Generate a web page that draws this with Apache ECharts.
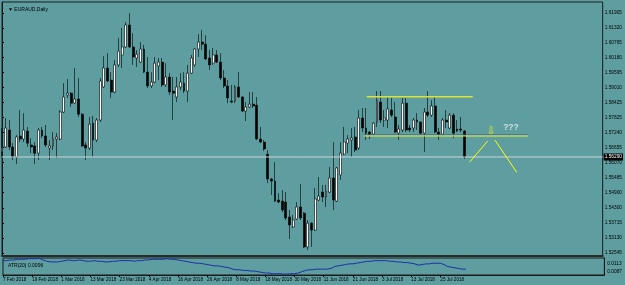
<!DOCTYPE html>
<html>
<head>
<meta charset="utf-8">
<script src="https://cdn.jsdelivr.net/npm/echarts@6/dist/echarts.min.js"></script>
<style>
html, body { margin: 0; padding: 0; background: #5f9ea0; }
#chart { width: 625px; height: 285px; }
</style>
</head>
<body>
<div id="chart"></div>
<script>
// EURAUD Daily, 7 Feb 2018 .. 3 Aug 2018
const startDate = '2018-02-07'
const barCount = 128
const slotCount = 166 // bars + empty chart shift on the right

const opens = [
  1.5648, 1.5668, 1.5734, 1.5668, 1.5629, 1.5711, 1.5699, 1.5730, 1.5676, 1.5672,
  1.5644, 1.5734, 1.5711, 1.5664, 1.5672, 1.5699, 1.5699, 1.5804, 1.5870, 1.5878,
  1.5839, 1.5855, 1.5796, 1.5676, 1.5664, 1.5761, 1.5695, 1.5773, 1.5902, 1.5976,
  1.5929, 1.5882, 1.5988, 1.6027, 1.6058, 1.6144, 1.6058, 1.6015, 1.5999, 1.6050,
  1.5960, 1.5906, 1.5921, 1.5984, 1.5999, 1.5910, 1.5941, 1.5886, 1.5863, 1.5902,
  1.5917, 1.5886, 1.5956, 1.5988, 1.6050, 1.6077, 1.6069, 1.6015, 1.5995, 1.6027,
  1.5999, 1.5937, 1.5906, 1.5847, 1.5847, 1.5902, 1.5863, 1.5808, 1.5824, 1.5835,
  1.5831, 1.5699, 1.5687, 1.5640, 1.5543, 1.5535, 1.5461, 1.5457, 1.5453, 1.5395,
  1.5356, 1.5387, 1.5434, 1.5410, 1.5278, 1.5371, 1.5344, 1.5461, 1.5492, 1.5473,
  1.5492, 1.5547, 1.5457, 1.5559, 1.5640, 1.5683, 1.5695, 1.5707, 1.5664, 1.5781,
  1.5742, 1.5726, 1.5718, 1.5765, 1.5843, 1.5773, 1.5773, 1.5812, 1.5785, 1.5722,
  1.5734, 1.5839, 1.5742, 1.5742, 1.5773, 1.5765, 1.5722, 1.5804, 1.5792, 1.5828,
  1.5726, 1.5718, 1.5773, 1.5742, 1.5792, 1.5738, 1.5738, 1.5730
]
const highs = [
  1.5742, 1.5781, 1.5773, 1.5683, 1.5714, 1.5812, 1.5800, 1.5746, 1.5703, 1.5687,
  1.5742, 1.5746, 1.5754, 1.5695, 1.5726, 1.5722, 1.5812, 1.5917, 1.5933, 1.5882,
  1.5976, 1.5937, 1.5800, 1.5687, 1.5785, 1.5789, 1.5781, 1.5937, 1.6022, 1.6034,
  1.5960, 1.6007, 1.6093, 1.6132, 1.6155, 1.6190, 1.6112, 1.6046, 1.6077, 1.6066,
  1.6019, 1.5960, 1.6019, 1.6015, 1.6015, 1.5995, 1.5956, 1.5941, 1.5941, 1.5956,
  1.5960, 1.5988, 1.6027, 1.6054, 1.6108, 1.6124, 1.6104, 1.6046, 1.6054, 1.6046,
  1.6034, 1.5968, 1.5929, 1.5910, 1.5910, 1.5960, 1.5866, 1.5843, 1.5882, 1.5882,
  1.5863, 1.5746, 1.5695, 1.5656, 1.5547, 1.5609, 1.5488, 1.5500, 1.5492, 1.5422,
  1.5403, 1.5453, 1.5524, 1.5414, 1.5383, 1.5375, 1.5508, 1.5551, 1.5520, 1.5520,
  1.5590, 1.5687, 1.5590, 1.5687, 1.5746, 1.5714, 1.5742, 1.5746, 1.5812, 1.5820,
  1.5820, 1.5730, 1.5765, 1.5886, 1.5886, 1.5812, 1.5863, 1.5859, 1.5843, 1.5754,
  1.5859, 1.5859, 1.5754, 1.5781, 1.5800, 1.5769, 1.5820, 1.5886, 1.5851, 1.5863,
  1.5742, 1.5781, 1.5812, 1.5800, 1.5800, 1.5773, 1.5785, 1.5734
]
const lows = [
  1.5633, 1.5664, 1.5656, 1.5617, 1.5601, 1.5687, 1.5687, 1.5668, 1.5644, 1.5601,
  1.5617, 1.5703, 1.5668, 1.5617, 1.5656, 1.5625, 1.5695, 1.5800, 1.5859, 1.5824,
  1.5835, 1.5785, 1.5668, 1.5617, 1.5656, 1.5629, 1.5687, 1.5765, 1.5898, 1.5921,
  1.5859, 1.5878, 1.5980, 1.5976, 1.6054, 1.6054, 1.5988, 1.5980, 1.5995, 1.5956,
  1.5898, 1.5898, 1.5917, 1.5929, 1.5902, 1.5902, 1.5870, 1.5773, 1.5843, 1.5890,
  1.5878, 1.5843, 1.5952, 1.5980, 1.6019, 1.6046, 1.6007, 1.5968, 1.5988, 1.5995,
  1.5929, 1.5898, 1.5839, 1.5839, 1.5839, 1.5859, 1.5804, 1.5769, 1.5820, 1.5820,
  1.5695, 1.5683, 1.5652, 1.5527, 1.5481, 1.5453, 1.5449, 1.5414, 1.5383, 1.5309,
  1.5352, 1.5383, 1.5383, 1.5274, 1.5266, 1.5278, 1.5340, 1.5457, 1.5453, 1.5434,
  1.5488, 1.5422, 1.5453, 1.5539, 1.5636, 1.5644, 1.5629, 1.5648, 1.5656, 1.5726,
  1.5695, 1.5699, 1.5714, 1.5746, 1.5761, 1.5746, 1.5742, 1.5785, 1.5722, 1.5695,
  1.5726, 1.5726, 1.5726, 1.5726, 1.5734, 1.5718, 1.5648, 1.5785, 1.5785, 1.5722,
  1.5695, 1.5714, 1.5742, 1.5738, 1.5703, 1.5726, 1.5726, 1.5621
]
const closes = [
  1.5668, 1.5742, 1.5668, 1.5629, 1.5707, 1.5699, 1.5734, 1.5683, 1.5668, 1.5644,
  1.5734, 1.5711, 1.5676, 1.5672, 1.5699, 1.5707, 1.5804, 1.5863, 1.5878, 1.5839,
  1.5855, 1.5796, 1.5672, 1.5664, 1.5757, 1.5695, 1.5773, 1.5925, 1.5976, 1.5925,
  1.5882, 1.5988, 1.6042, 1.6058, 1.6144, 1.6058, 1.6019, 1.6030, 1.6050, 1.5960,
  1.5906, 1.5921, 1.5995, 1.5999, 1.5910, 1.5941, 1.5882, 1.5878, 1.5902, 1.5921,
  1.5886, 1.5956, 1.6015, 1.6050, 1.6077, 1.6069, 1.6011, 1.5988, 1.6027, 1.5999,
  1.5937, 1.5906, 1.5859, 1.5843, 1.5902, 1.5863, 1.5808, 1.5824, 1.5835, 1.5828,
  1.5699, 1.5687, 1.5660, 1.5543, 1.5535, 1.5457, 1.5453, 1.5422, 1.5391, 1.5364,
  1.5383, 1.5434, 1.5391, 1.5278, 1.5371, 1.5344, 1.5465, 1.5477, 1.5473, 1.5496,
  1.5547, 1.5461, 1.5586, 1.5644, 1.5687, 1.5699, 1.5703, 1.5656, 1.5781, 1.5742,
  1.5722, 1.5718, 1.5761, 1.5851, 1.5773, 1.5781, 1.5816, 1.5792, 1.5726, 1.5738,
  1.5839, 1.5734, 1.5734, 1.5773, 1.5765, 1.5722, 1.5804, 1.5792, 1.5828, 1.5726,
  1.5718, 1.5773, 1.5765, 1.5792, 1.5722, 1.5730, 1.5734, 1.5629
]
// ATR(20) in the lower window
const atr = [
  0.0109, 0.0109, 0.0110, 0.0110, 0.0111, 0.0111, 0.0111, 0.0112, 0.0112, 0.0112,
  0.01125, 0.0110, 0.0108, 0.0107, 0.0107, 0.0107, 0.0108, 0.0109, 0.0110, 0.0109,
  0.0109, 0.0110, 0.0109, 0.0108, 0.0108, 0.0109, 0.0108, 0.0108, 0.0107, 0.0107,
  0.0108, 0.0108, 0.0109, 0.0109, 0.0109, 0.0109, 0.0108, 0.0109, 0.0109, 0.0110,
  0.0110, 0.0111, 0.0111, 0.0111, 0.0111, 0.0112, 0.0111, 0.0111, 0.0110, 0.0109,
  0.0108, 0.0107, 0.0106, 0.0105, 0.0105, 0.0104, 0.0103, 0.0102, 0.0101, 0.0101,
  0.0100, 0.0099, 0.0098, 0.0096, 0.0095, 0.0095, 0.0094, 0.0094, 0.0093, 0.0093,
  0.0092, 0.0091, 0.0090, 0.0090, 0.0089, 0.0089, 0.0089, 0.00885, 0.00885, 0.0089,
  0.0089, 0.0090, 0.0092, 0.0094, 0.0095, 0.0095, 0.0096, 0.0096, 0.0096, 0.0096,
  0.0097, 0.0100, 0.0101, 0.0102, 0.0103, 0.0104, 0.0104, 0.0105, 0.0106, 0.0107,
  0.0108, 0.0108, 0.0109, 0.0109, 0.0109, 0.0109, 0.0108, 0.0108, 0.0107, 0.0107,
  0.0106, 0.0106, 0.0105, 0.0104, 0.0102, 0.0103, 0.0104, 0.0104, 0.0105, 0.0105,
  0.0105, 0.0103, 0.0100, 0.0099, 0.0098, 0.0097, 0.0096, 0.0096
]
const priceTicks = [
  1.61905, 1.61320, 1.60765, 1.60180, 1.59595, 1.59010, 1.58425, 1.57825, 1.57240,
  1.56655, 1.56070, 1.55485, 1.54900, 1.54300, 1.53715, 1.53130, 1.52545
]
const atrTicks = ['0.0113', '0.0087']        // window max / min
const atrTickSpots = [0.01048, 0.00921]      // where MT4 prints them

// hand drawn objects: [bar position, price]
const rangeTop = [[100.2, 1.5864], [129.3, 1.5864]]
const rangeBottom = [[99.3, 1.5711], [144.5, 1.5711]]
const rangeBottomBlue = [[99.3, 1.5715], [144.5, 1.5715]]
const legDown = [[128.4, 1.5608], [133.4, 1.5691]]
const legUp = [[135.4, 1.5695], [141.4, 1.5569]]
const arrowPos = [[134.3, 1.5730]]
const questionPos = [[139.8, 1.5742]]

const months = ['Jan', 'Feb', 'Mar', 'Apr', 'May', 'Jun', 'Jul', 'Aug', 'Sep', 'Oct', 'Nov', 'Dec']
function tradingDays(start, n) {
  const d = new Date(start + 'T00:00:00Z')
  const out = []
  while (out.length < n) {
    const wd = d.getUTCDay()
    if (wd !== 0 && wd !== 6) out.push(d.getUTCDate() + ' ' + months[d.getUTCMonth()] + ' ' + d.getUTCFullYear())
    d.setUTCDate(d.getUTCDate() + 1)
  }
  return out
}
const dates = tradingDays(startDate, slotCount)
const candles = opens.map((o, i) => [o, closes[i], lows[i], highs[i]])
const lastClose = closes[closes.length - 1]
const priceLine = [[0, lastClose], [slotCount - 1, lastClose]]

const FONT = 'Liberation Sans'
const everyEighth = (idx) => idx % 8 === 0 && idx < barCount

const chart = echarts.init(document.getElementById('chart'))
const option = {
  animation: false,
  backgroundColor: '#5f9ea0',
  textStyle: { fontFamily: FONT },
  title: [
    { text: '\u25BC EURAUD,Daily', left: 3, top: 2, textStyle: { fontSize: 5, fontWeight: 'normal', color: '#000', fontFamily: FONT } },
    { text: 'ATR(20) ' + atr[atr.length - 1].toFixed(4), left: 3, top: 258, textStyle: { fontSize: 5, fontWeight: 'normal', color: '#000', fontFamily: FONT } }
  ],
  grid: [
    { left: 2, right: 19, top: 2, height: 254, show: true, borderColor: '#1a1a1a', borderWidth: 1, backgroundColor: 'transparent' },
    { left: 2, right: 19, top: 258, height: 17, show: true, borderColor: '#1a1a1a', borderWidth: 1, backgroundColor: 'transparent' }
  ],
  xAxis: [
    {
      type: 'category', gridIndex: 0, data: dates, boundaryGap: false,
      axisLine: { show: true, lineStyle: { color: '#2a2a2a', width: 2 } },
      axisTick: { show: false }, axisLabel: { show: false }, splitLine: { show: false }
    },
    {
      type: 'category', gridIndex: 1, data: dates, boundaryGap: false,
      axisLine: { show: true, lineStyle: { color: '#1a1a1a', width: 1 } },
      axisTick: { show: true, interval: everyEighth, length: 2, lineStyle: { color: '#000' } },
      axisLabel: {
        show: true, interval: everyEighth, align: 'left', margin: 2,
        fontSize: 4.6, color: '#000', fontFamily: FONT,
        formatter: (v, i) => (i < barCount ? v : '')
      },
      splitLine: { show: false }
    },
    { type: 'value', gridIndex: 0, min: 0, max: slotCount - 1, show: false }
  ],
  yAxis: [
    {
      type: 'value', gridIndex: 0, position: 'right',
      min: 1.52428, max: 1.62334,
      axisLine: { show: true, lineStyle: { color: '#1a1a1a' } },
      axisTick: { show: true, length: 2, customValues: priceTicks, lineStyle: { color: '#000' } },
      axisLabel: {
        show: true, customValues: priceTicks, margin: 2, fontSize: 4.8, color: '#000', fontFamily: FONT,
        formatter: (v) => v.toFixed(5)
      },
      splitLine: { show: false }
    },
    {
      type: 'value', gridIndex: 1, position: 'right',
      min: 0.0087, max: 0.0113,
      axisLine: { show: true, lineStyle: { color: '#1a1a1a' } },
      axisTick: { show: false },
      axisLabel: {
        show: true, customValues: atrTickSpots, margin: 3, fontSize: 4.8, color: '#000', fontFamily: FONT,
        formatter: (v) => atrTicks[v > 0.01 ? 0 : 1]
      },
      splitLine: { show: false }
    }
  ],
  series: [
    {
      type: 'candlestick', xAxisIndex: 0, yAxisIndex: 0, data: candles,
      barWidth: 2.4,
      itemStyle: { color: '#ffffff', color0: '#000000', borderColor: '#000000', borderColor0: '#000000', borderWidth: 0.6 }
    },
    {
      type: 'line', xAxisIndex: 2, yAxisIndex: 0, data: priceLine, symbol: 'none', silent: true,
      lineStyle: { color: '#c9d6d6', width: 1 },
      endLabel: {
        show: true, distance: 1, backgroundColor: '#000', color: '#fff', fontSize: 4.8, fontFamily: FONT,
        padding: [1, 1, 1, 1], formatter: (p) => p.value[1].toFixed(5)
      }
    },
    { type: 'line', xAxisIndex: 2, yAxisIndex: 0, data: rangeTop, symbol: 'none', lineStyle: { color: '#dde23a', width: 1.4 } },
    { type: 'line', xAxisIndex: 2, yAxisIndex: 0, data: rangeBottomBlue, symbol: 'none', lineStyle: { color: '#2c5bd8', width: 1 } },
    { type: 'line', xAxisIndex: 2, yAxisIndex: 0, data: rangeBottom, symbol: 'none', lineStyle: { color: '#ffff00', width: 1 } },
    { type: 'line', xAxisIndex: 2, yAxisIndex: 0, data: legDown, symbol: 'none', lineStyle: { color: '#ffff00', width: 1 } },
    { type: 'line', xAxisIndex: 2, yAxisIndex: 0, data: legUp, symbol: 'none', lineStyle: { color: '#ffff00', width: 1 } },
    {
      type: 'scatter', xAxisIndex: 2, yAxisIndex: 0, data: arrowPos, symbolSize: 0,
      label: { show: true, position: 'inside', formatter: '\u21E9', color: '#ffff00', fontSize: 10, fontFamily: 'DejaVu Sans' }
    },
    {
      type: 'scatter', xAxisIndex: 2, yAxisIndex: 0, data: questionPos, symbolSize: 0,
      label: { show: true, position: 'inside', formatter: '???', color: '#dcf0f0', fontSize: 8.5, fontWeight: 'bold', fontFamily: FONT }
    },
    {
      type: 'line', xAxisIndex: 1, yAxisIndex: 1, data: atr, symbol: 'none',
      lineStyle: { color: '#1c2fa8', width: 1 }
    }
  ]
}
chart.setOption(option)
</script>
</body>
</html>
